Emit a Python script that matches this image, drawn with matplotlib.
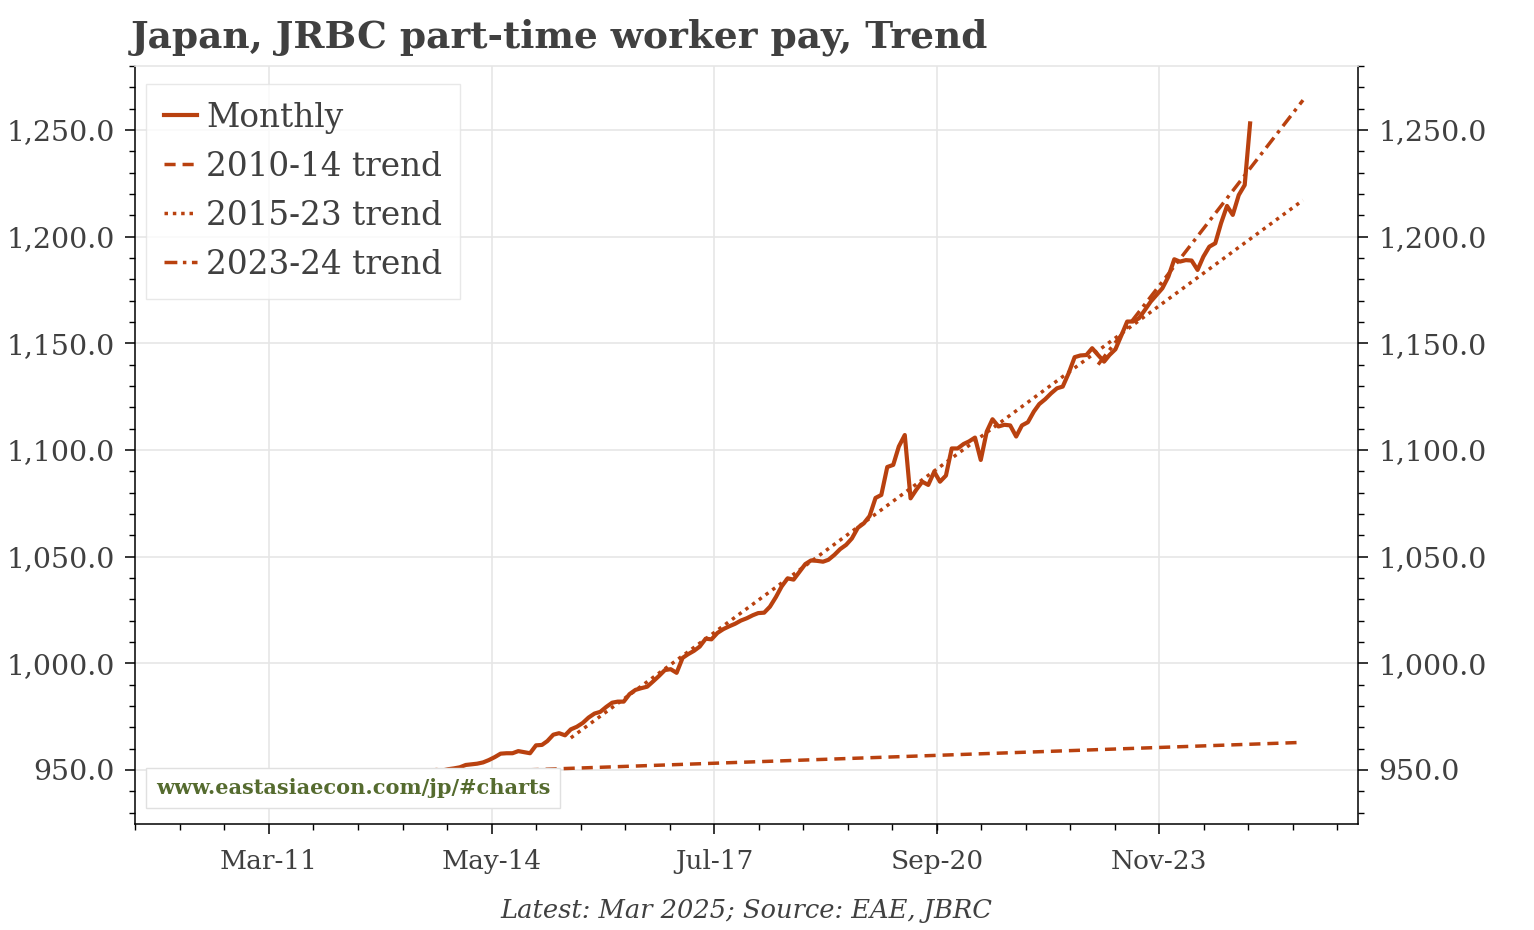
import numpy as np
import pandas as pd
import matplotlib
matplotlib.use('Agg')
import matplotlib.pyplot as plt
import matplotlib.dates as mdates
from matplotlib.ticker import FuncFormatter, MultipleLocator, FixedLocator

plt.rcParams['font.family'] = ['DejaVu Serif']

# 月度数据 (Jan 2010 - Mar 2025), yen per hour
monthly_start = '2010-01-01'
monthly = [
    944.0, 944.5, 944.2, 944.8, 945.0, 944.6, 945.2, 945.5, 945.1, 945.6, 945.9, 945.4,
    945.8, 946.1, 945.7, 946.3, 946.6, 946.2, 946.8, 947.0, 946.6, 947.1, 947.4, 947.0,
    947.3, 947.6, 947.2, 947.8, 948.0, 947.6, 948.1, 948.4, 948.0, 948.5, 948.7, 948.3,
    948.6, 948.9, 948.5, 949.1, 949.4, 949.0, 949.6, 950.0, 949.7, 950.3, 950.7, 951.2,
    952.3, 952.6, 952.9, 953.5, 954.6, 956.0, 957.6, 957.8, 957.8, 958.8, 958.3, 957.8,
    961.5, 961.7, 963.5, 966.5, 967.2, 966.2, 969.0, 970.2, 972.0, 974.5, 976.4, 977.2,
    979.5, 981.5, 982.0, 982.0, 985.5, 987.5, 988.3, 989.0, 991.5, 994.0, 996.8, 997.2,
    995.5, 1002.5, 1004.2, 1005.8, 1007.8, 1011.5, 1011.2, 1014.2, 1016.0, 1017.3, 1018.5, 1020.0,
    1021.1, 1022.5, 1023.5, 1023.7, 1026.5, 1031.0, 1036.0, 1039.8, 1039.2, 1042.8, 1046.5, 1048.2,
    1048.0, 1047.6, 1048.5, 1050.8, 1053.5, 1055.5, 1058.5, 1063.5, 1065.6, 1069.0, 1077.5, 1078.9,
    1092.0, 1093.0, 1101.6, 1107.0, 1077.3, 1081.5, 1085.1, 1083.6, 1089.8, 1085.1, 1088.0, 1100.7,
    1100.7, 1102.8, 1104.0, 1105.8, 1095.3, 1108.6, 1114.4, 1111.0, 1111.8, 1111.5, 1106.3, 1111.5,
    1113.0, 1118.0, 1121.5, 1123.8, 1126.5, 1128.9, 1129.7, 1136.0, 1143.5, 1144.3, 1144.5, 1147.7,
    1144.5, 1141.4, 1144.5, 1147.2, 1153.5, 1160.2, 1160.2, 1161.7, 1165.6, 1169.5, 1172.7, 1175.8,
    1181.2, 1189.4, 1188.3, 1189.0, 1188.8, 1184.4, 1190.6, 1195.3, 1196.9, 1206.3, 1214.4, 1210.2,
    1219.5, 1224.2, 1253.1,
]
months = pd.date_range(monthly_start, periods=len(monthly), freq='MS')

trend_names = ['2010-14 trend', '2015-23 trend', '2023-24 trend']
trend_start = ['2010-01-01', '2015-07-01', '2023-01-01']
trend_end = ['2025-12-01', '2025-12-01', '2025-12-01']
trend_start_val = [944.3, 965.0, 1140.0]
trend_end_val = [962.9, 1217.1, 1264.0]
trend_dashes = [(3.2, 2.0), (1.0, 1.4), (3.7, 1.6, 1.0, 1.6)]

tick_dates = ['2011-03-15', '2014-05-15', '2017-07-15', '2020-09-15', '2023-11-15']
tick_labels = ['Mar-11', 'May-14', 'Jul-17', 'Sep-20', 'Nov-23']

line_col = '#b9410f'
text_col = '#404040'
grid_col = '#e6e6e6'

fig = plt.figure(figsize=(15.34, 9.3), dpi=100)
ax = fig.add_axes([0.088, 0.1137, 0.7973, 0.8153])

ax.plot(months, monthly, color=line_col, lw=3.0, label='Monthly', zorder=3)
for name, s, e, sv, ev, ds in zip(trend_names, trend_start, trend_end,
                                  trend_start_val, trend_end_val, trend_dashes):
    ax.plot(pd.to_datetime([s, e]), [sv, ev], color=line_col, lw=2.5, dashes=ds,
            label=name, zorder=4)

# x轴刻度
tick_num = mdates.date2num(pd.to_datetime(tick_dates))
minor_step = (tick_num[-1] - tick_num[0]) / 4 / 5
ax.xaxis.set_major_locator(FixedLocator(tick_num))
ax.xaxis.set_major_formatter(FuncFormatter(lambda v, p: tick_labels[int(np.argmin(np.abs(tick_num - v)))]))
minor_ticks = np.arange(tick_num[0] - 3 * minor_step, tick_num[-1] + 5 * minor_step, minor_step)
ax.xaxis.set_minor_locator(FixedLocator(minor_ticks))
ax.set_xlim(tick_num[0] - 3.01 * minor_step, tick_num[-1] + 4.465 * minor_step)

ax.set_ylim(924.5, 1280)
ax.yaxis.set_major_locator(MultipleLocator(50))
ax.yaxis.set_minor_locator(MultipleLocator(10))
ax.yaxis.set_major_formatter(FuncFormatter(lambda v, p: f'{v:,.1f}'))

ax.grid(True, which='major', color=grid_col, lw=1.2)
ax.set_axisbelow(True)
for side in ['left', 'bottom', 'right']:
    ax.spines[side].set_color('black')
    ax.spines[side].set_linewidth(1.1)
ax.spines['top'].set_color(grid_col)
ax.spines['top'].set_linewidth(1.2)

ax.tick_params(axis='both', which='major', direction='out', length=7, width=1.1,
               labelcolor=text_col)
ax.tick_params(axis='both', which='minor', direction='out', length=4.5, width=1.0)
ax.tick_params(axis='x', which='major', pad=11, labelsize=19)
ax.tick_params(axis='y', which='both', right=True, labelright=True, pad=7.5, labelsize=20.5)

leg = ax.legend(loc='upper left', bbox_to_anchor=(0.009, 0.9764), fontsize=23.5,
                frameon=True, fancybox=False, handlelength=1.0,
                handletextpad=0.3, labelspacing=0.52, borderpad=0.55, borderaxespad=0.0)
leg.get_frame().set_edgecolor('#e3e3e3')
leg.get_frame().set_linewidth(1.0)
for t in leg.get_texts():
    t.set_color(text_col)

ax.text(0.0172, 0.0347, 'www.eastasiaecon.com/jp/#charts', transform=ax.transAxes,
        fontsize=15.0, fontweight='bold', color='#556b2f', ha='left', va='bottom', zorder=6,
        bbox=dict(boxstyle='square,pad=0.48', facecolor='white', edgecolor='#e0e0e0', lw=1.0))

fig.text(0.085, 0.98, 'Japan, JRBC part-time worker pay, Trend', fontsize=27,
         fontweight='bold', color=text_col, ha='left', va='top')
fig.text(0.4866, 0.0215, 'Latest: Mar 2025; Source: EAE, JBRC', fontsize=18.5,
         style='italic', color=text_col, ha='center', va='center')

fig.savefig('out.png', dpi=100)
